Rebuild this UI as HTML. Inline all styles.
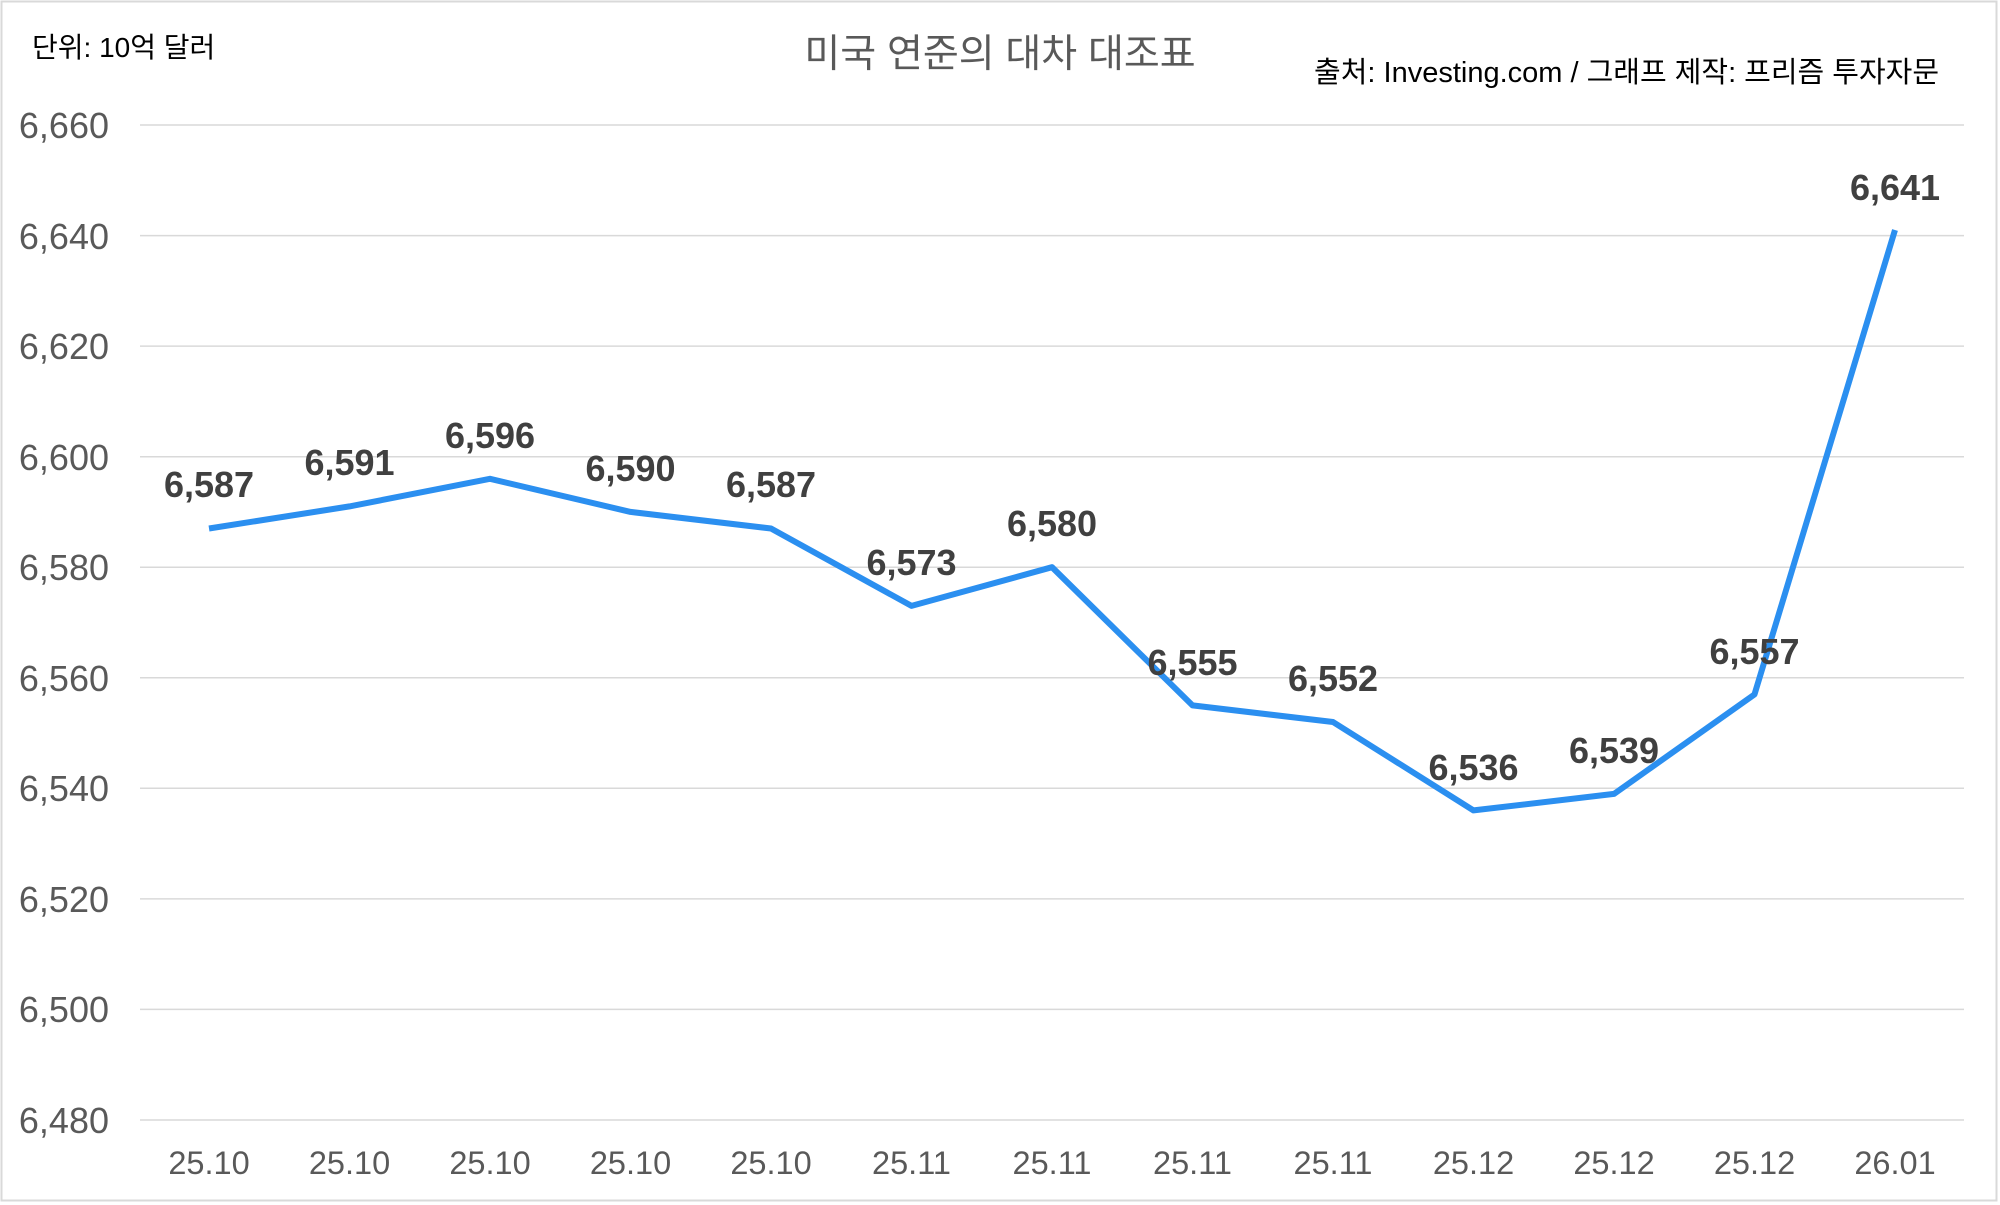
<!DOCTYPE html>
<html><head><meta charset="utf-8"><style>
html,body{margin:0;padding:0;background:#fff;}
svg{display:block;}
</style></head><body>
<svg width="2000" height="1205" xmlns="http://www.w3.org/2000/svg" font-family="'Liberation Sans','Noto Sans CJK KR',sans-serif">
<rect x="1.5" y="1.5" width="1995" height="1199" fill="#fff" stroke="#d9d9d9" stroke-width="2"/>
<text x="32" y="57" font-size="28" fill="#000">단위: 10억 달러</text>
<text x="1000" y="67" font-size="39" fill="#595959" text-anchor="middle">미국 연준의 대차 대조표</text>
<text x="1939" y="82" font-size="29" fill="#000" text-anchor="end">출처: Investing.com / 그래프 제작: 프리즘 투자자문</text>
<g stroke="#d9d9d9" stroke-width="1.5">
<line x1="140" x2="1964" y1="125" y2="125"/>
<line x1="140" x2="1964" y1="235.6" y2="235.6"/>
<line x1="140" x2="1964" y1="346.1" y2="346.1"/>
<line x1="140" x2="1964" y1="456.7" y2="456.7"/>
<line x1="140" x2="1964" y1="567.2" y2="567.2"/>
<line x1="140" x2="1964" y1="677.8" y2="677.8"/>
<line x1="140" x2="1964" y1="788.3" y2="788.3"/>
<line x1="140" x2="1964" y1="898.9" y2="898.9"/>
<line x1="140" x2="1964" y1="1009.4" y2="1009.4"/>
<line x1="140" x2="1964" y1="1120" y2="1120"/>
</g>
<g font-size="36" fill="#595959" text-anchor="end">
<text x="109" y="138">6,660</text>
<text x="109" y="249">6,640</text>
<text x="109" y="359">6,620</text>
<text x="109" y="470">6,600</text>
<text x="109" y="580">6,580</text>
<text x="109" y="691">6,560</text>
<text x="109" y="801">6,540</text>
<text x="109" y="912">6,520</text>
<text x="109" y="1022">6,500</text>
<text x="109" y="1133">6,480</text>
</g>
<g font-size="32.5" fill="#595959" text-anchor="middle">
<text x="209" y="1174">25.10</text>
<text x="349.5" y="1174">25.10</text>
<text x="490" y="1174">25.10</text>
<text x="630.5" y="1174">25.10</text>
<text x="771" y="1174">25.10</text>
<text x="911.5" y="1174">25.11</text>
<text x="1052" y="1174">25.11</text>
<text x="1192.5" y="1174">25.11</text>
<text x="1333" y="1174">25.11</text>
<text x="1473.5" y="1174">25.12</text>
<text x="1614" y="1174">25.12</text>
<text x="1754.5" y="1174">25.12</text>
<text x="1895" y="1174">26.01</text>
</g>
<polyline fill="none" stroke="#2b8ff0" stroke-width="6" stroke-linejoin="round" points="209,528.5 349.5,506.4 490,478.8 630.5,511.9 771,528.5 911.5,605.9 1052,567.2 1192.5,705.4 1333,722 1473.5,810.4 1614,793.9 1754.5,694.4 1895,230"/>
<g font-size="36" font-weight="bold" fill="#404040" text-anchor="middle">
<text x="209" y="497">6,587</text>
<text x="349.5" y="475">6,591</text>
<text x="490" y="448">6,596</text>
<text x="630.5" y="481">6,590</text>
<text x="771" y="497">6,587</text>
<text x="911.5" y="575">6,573</text>
<text x="1052" y="536">6,580</text>
<text x="1192.5" y="675">6,555</text>
<text x="1333" y="691">6,552</text>
<text x="1473.5" y="780">6,536</text>
<text x="1614" y="763">6,539</text>
<text x="1754.5" y="664">6,557</text>
<text x="1895" y="200">6,641</text>
</g>
</svg>
</body></html>
